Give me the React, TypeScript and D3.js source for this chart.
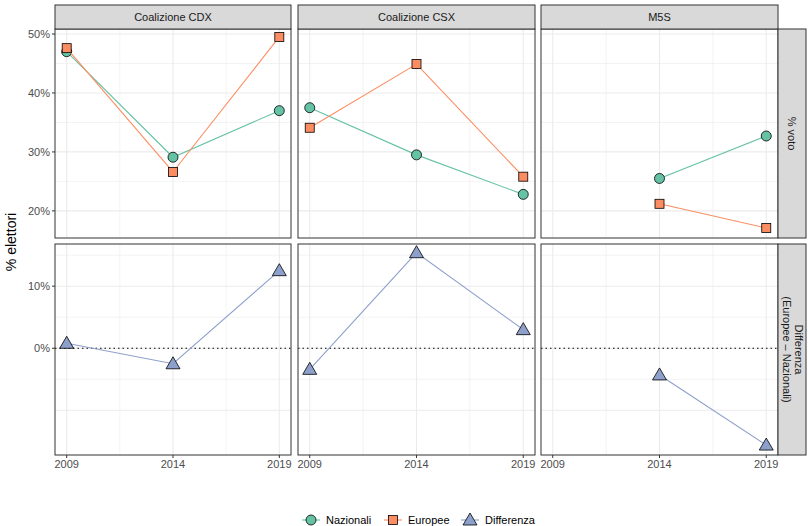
import React from "react";
import * as d3 from "d3";

const years = [2009, 2014, 2019];
const panels = ["Coalizione CDX", "Coalizione CSX", "M5S"];
const nazionali = [[47.0, 29.1, 37.0], [37.5, 29.5, 22.8], [null, 25.5, 32.7]];
const europee = [[47.6, 26.6, 49.5], [34.1, 44.9, 25.8], [null, 21.2, 17.1]];
const differenza = [[0.8, -2.5, 12.5], [-3.4, 15.4, 3.0], [null, -4.3, -15.6]];
const seriesNames = ["Nazionali", "Europee", "Differenza"];
const colors = ["#66C2A5", "#FC8D62", "#8DA0CB"];
const rowLabels = [["% voto"], ["Differenza", "(Europee \u2013 Nazionali)"]];

const colX = [[55, 291], [298, 535], [541, 778]];
const rows = [
  { top: 29, bottom: 238, domain: [15.4, 50.85], grid: [20, 25, 30, 35, 40, 45, 50], labels: [20, 30, 40, 50] },
  { top: 244, bottom: 455, domain: [-17.2, 16.8], grid: [-10, -5, 0, 5, 10, 15], labels: [0, 10] },
];
const font = "Liberation Sans, Arial, sans-serif";

function Marker({ type, x, y, color }: { type: number; x: number; y: number; color: string }) {
  if (type === 0) return <circle cx={x} cy={y} r={5} fill={color} stroke="#000" strokeWidth={0.8} />;
  if (type === 1) return <rect x={x - 4.5} y={y - 4.5} width={9} height={9} fill={color} stroke="#000" strokeWidth={0.8} />;
  return <path d={`M${x},${y - 7}L${x + 7},${y + 5}L${x - 7},${y + 5}Z`} fill={color} stroke="#000" strokeWidth={0.8} />;
}

export default function App() {
  return (
    <svg width={808} height={526} style={{ position: "absolute", left: 0, top: 0 }} fontFamily={font}>
      <rect width={808} height={526} fill="#fff" />
      {rows.map((row, ri) => {
        const y = d3.scaleLinear().domain(row.domain).range([row.bottom, row.top]);
        return panels.map((p, ci) => {
          const [x0, x1] = colX[ci];
          const x = d3.scaleLinear().domain([2008.45, 2019.55]).range([x0, x1]);
          const data = ri === 0 ? [nazionali[ci], europee[ci]] : [differenza[ci]];
          return (
            <g key={`${ri}-${ci}`}>
              {[2011.5, 2016.5].map((v) => (
                <line key={v} x1={x(v)} x2={x(v)} y1={row.top} y2={row.bottom} stroke="#EBEBEB" strokeWidth={0.6} />
              ))}
              {row.grid.map((v) => (
                <line key={v} x1={x0} x2={x1} y1={y(v)} y2={y(v)} stroke="#EBEBEB" strokeWidth={v % 10 === 0 ? 1.1 : 0.6} />
              ))}
              {years.map((v) => (
                <line key={v} x1={x(v)} x2={x(v)} y1={row.top} y2={row.bottom} stroke="#EBEBEB" strokeWidth={1.1} />
              ))}
              {ri === 1 && <line x1={x0} x2={x1} y1={y(0)} y2={y(0)} stroke="#000" strokeDasharray="1.5,3" />}
              {data.map((vals, si) => {
                const s = ri === 0 ? si : 2;
                const pts = years.map((yr, i) => [yr, vals[i]] as [number, number | null]).filter((d) => d[1] !== null) as [number, number][];
                const line = d3.line<[number, number]>().x((d) => x(d[0])).y((d) => y(d[1]));
                return (
                  <g key={si}>
                    <path d={line(pts) || ""} fill="none" stroke={colors[s]} strokeWidth={1.1} />
                    {pts.map((d, i) => <Marker key={i} type={s} x={x(d[0])} y={y(d[1])} color={colors[s]} />)}
                  </g>
                );
              })}
              <rect x={x0} y={row.top} width={x1 - x0} height={row.bottom - row.top} fill="none" stroke="#333" strokeWidth={1} />
              {ci === 0 && row.labels.map((v) => (
                <g key={v}>
                  <line x1={x0 - 3} x2={x0} y1={y(v)} y2={y(v)} stroke="#333" />
                  <text x={x0 - 5} y={y(v)} dy="0.35em" textAnchor="end" fontSize={11} fill="#4D4D4D">{v}%</text>
                </g>
              ))}
              {ri === 1 && years.map((v) => (
                <g key={v}>
                  <line x1={x(v)} x2={x(v)} y1={row.bottom} y2={row.bottom + 3} stroke="#333" />
                  <text x={x(v)} y={row.bottom + 13} textAnchor="middle" fontSize={11} fill="#4D4D4D">{v}</text>
                </g>
              ))}
              {ri === 0 && (
                <g>
                  <rect x={x0} y={5} width={x1 - x0} height={24} fill="#D9D9D9" stroke="#333" />
                  <text x={(x0 + x1) / 2} y={17} dy="0.35em" textAnchor="middle" fontSize={11} fill="#1A1A1A">{p}</text>
                </g>
              )}
            </g>
          );
        });
      })}
      {rows.map((row, ri) => {
        const cy = (row.top + row.bottom) / 2;
        const lines = rowLabels[ri];
        return (
          <g key={ri}>
            <rect x={778} y={row.top} width={28} height={row.bottom - row.top} fill="#D9D9D9" stroke="#333" />
            <text transform={`translate(792,${cy}) rotate(90)`} textAnchor="middle" fontSize={11} fill="#1A1A1A">
              {lines.map((l, i) => (
                <tspan key={i} x={0} dy={i === 0 ? (lines.length === 1 ? "0.35em" : "-0.25em") : "1.1em"}>{l}</tspan>
              ))}
            </text>
          </g>
        );
      })}
      <text transform="translate(16,242) rotate(-90)" textAnchor="middle" fontSize={14} fill="#000">% elettori</text>
      {seriesNames.map((n, i) => {
        const lx = [311, 393, 470][i];
        return (
          <g key={n}>
            <line x1={lx - 9} x2={lx + 9} y1={520} y2={520} stroke={colors[i]} strokeWidth={1.1} />
            <Marker type={i} x={lx} y={520} color={colors[i]} />
            <text x={lx + 15} y={520} dy="0.35em" fontSize={11} fill="#000">{n}</text>
          </g>
        );
      })}
    </svg>
  );
}
